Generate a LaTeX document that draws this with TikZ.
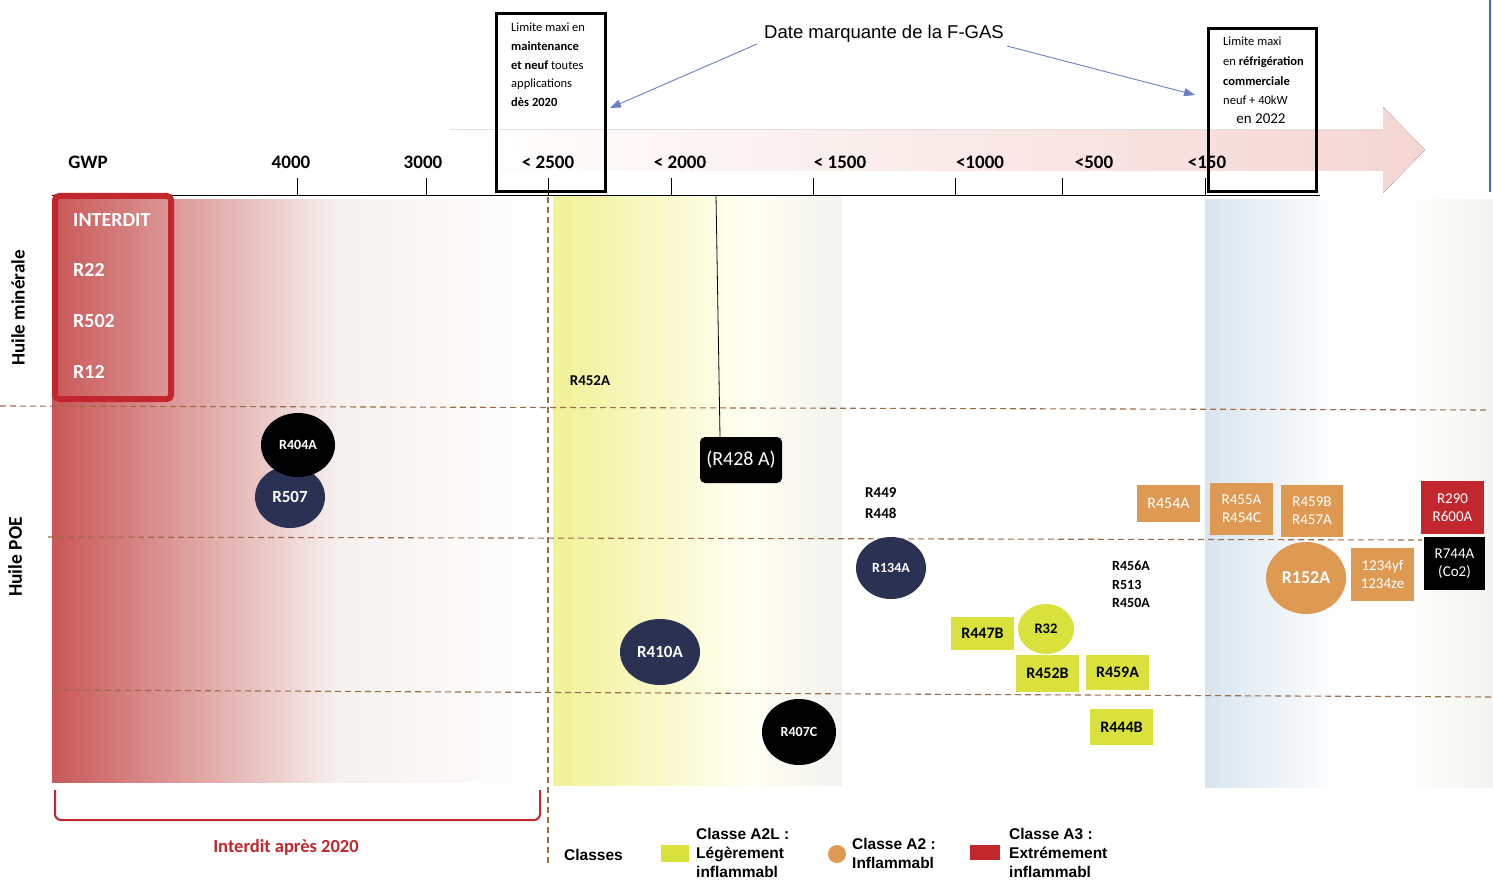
\documentclass[tikz,border=0pt]{standalone}
\usepackage{fontspec}
\setmainfont{Carlito}
\newfontfamily\arialf{Liberation Sans}
\usetikzlibrary{arrows.meta,positioning,shapes.geometric}
\definecolor{bannerred}{HTML}{C1272D}
\definecolor{zonered}{HTML}{C95757}
\definecolor{zonefade}{HTML}{F6F1EF}
\definecolor{zoneyel}{HTML}{F1F196}
\definecolor{zoneblue}{HTML}{D8E5EF}
\definecolor{zonegray}{HTML}{F3F3F0}
\definecolor{gasnavy}{HTML}{2B3153}
\definecolor{gasorange}{HTML}{DE9A52}
\definecolor{gaslime}{HTML}{D9E23D}
\definecolor{dashbrown}{HTML}{9C6B48}
\definecolor{fgasblue}{HTML}{6B80C0}
\definecolor{edgeblue}{HTML}{3F6FBF}
\definecolor{arrowpink}{HTML}{F4D6D3}
\newcommand{\fsz}[2]{\fontsize{#1}{#2}\selectfont}

\begin{document}
\begin{tikzpicture}[x=1pt,y=-1pt,
  >={Triangle[length=11pt,width=8pt]},
  gwp/.style={font=\bfseries\fsz{19}{22}, inner sep=0pt},
  tickline/.style={draw=black, line width=0.9pt},
  limbox/.style={draw=black, line width=3pt, inner sep=0pt},
  limtxt/.style={font=\fsz{12.5}{18.7}, align=left, anchor=north west, inner sep=0pt},
  sep/.style={draw=dashbrown, line width=1.1pt, dash pattern=on 6pt off 4pt},
  fgasarr/.style={->, draw=fgasblue, line width=0.9pt},
  blob/.style={ellipse, inner sep=0pt, text=white, font=\bfseries\fsz{15}{18}},
  tag/.style={rectangle, inner sep=0pt, text=white, font=\fsz{15}{18}, align=center},
  limetag/.style={rectangle, fill=gaslime, inner sep=0pt, text=black, font=\bfseries\fsz{16}{19}},
  reflbl/.style={font=\bfseries\fsz{15}{21}, align=left, inner sep=0pt},
  bantxt/.style={font=\bfseries\fsz{20}{23}, text=white, anchor=west, inner sep=0pt},
  legtxt/.style={font=\arialf\bfseries\fsz{15.5}{19}, align=left, anchor=west, inner sep=0pt},
]
\useasboundingbox (0,0) rectangle (1493,882);
\fill[white] (0,0) rectangle (1493,882);

% ---- zones ----
\fill[left color=zonered, right color=zonefade] (52,200) rectangle (340,782);
\fill[left color=zonefade, right color=white!97!zonegray] (340,200) rectangle (543,782);
\fill[left color=zoneyel, right color=white!95!yellow] (553,197) rectangle (745,785);
\fill[left color=white!95!yellow, right color=zonegray] (745,197) rectangle (842,785);
\fill[left color=zoneblue, right color=white] (1205,200) rectangle (1340,787);
\fill[left color=white, right color=zonegray] (1400,200) rectangle (1493,787);
\draw[edgeblue, line width=2.5pt] (1490,0) -- (1490,192);

% ---- fleche GWP ----
\fill[left color=white, right color=arrowpink] (450,130) -- (1383,130) -- (1383,107)
  -- (1425,150) -- (1383,193) -- (1383,171) -- (450,171) -- cycle;

% ---- axe ----
\draw[tickline] (52,195) -- (1320,195);
\foreach \tx in {297,426,548,671,813,955,1062,1205}
  \draw[tickline] (\tx,178) -- (\tx,195);
\foreach \lx/\lbl [count=\i] in {88/GWP,291/4000,423/3000,548/{< 2500},680/{< 2000},
    840/{< 1500},980/{<1000},1094/{<500},1207/{<150}}
  \node[gwp] (gwp\i) at (\lx,162) {\lbl};

% ---- separations ----
\draw[sep] (0,406) -- (1490,410);
\draw[sep] (48,537) -- (1422,540);
\draw[sep] (55,690) -- (1493,697);
\draw[sep] (548,197) -- (548,865);

% ---- limites F-GAS ----
\node[limbox, minimum width=109, minimum height=178] (lim2020) at (551,102.5) {};
\node[limtxt] (lim2020txt) at (511,23) {Limite maxi en\\\textbf{maintenance}\\\textbf{et neuf} toutes\\applications\\\textbf{dès 2020}};
\node[limbox, minimum width=108, minimum height=163] (lim2022) at (1262.5,110) {};
\node[limtxt, font=\fsz{12.5}{19.7}] (lim2022txt) at (1223,37) {Limite maxi\\en \textbf{réfrigération}\\\textbf{commerciale}\\neuf + 40kW};
\node[font=\fsz{15}{18}, inner sep=0pt] (en2022) at (1261,119) {en 2022};

\node[font=\arialf\fsz{18.5}{22}, inner sep=0pt] (fgas) at (884,34) {Date marquante de la F-GAS};
\draw[fgasarr] ([xshift=-7pt,yshift=-10pt]fgas.west) -- ([xshift=3pt,yshift=-5.5pt]lim2020.east);
\draw[fgasarr] ([xshift=3pt,yshift=-12pt]fgas.east) -- ([xshift=-12pt,yshift=15pt]lim2022.west);

% ---- interdit ----
\node[draw=bannerred, line width=6pt, rounded corners=4pt, minimum width=116, minimum height=203,
  inner sep=0pt] (interdit) at (113,297.5) {};
\foreach \ty/\lbl [count=\i] in {220/INTERDIT,270/R22,321/R502,372/R12}
  \node[bantxt] (ban\i) at (73,\ty) {\lbl};
\draw[bannerred, line width=2pt, rounded corners=6pt] (55,790) -- (55,820) -- (540,820) -- (540,790);
\node[font=\bfseries\fsz{18.5}{21}, text=bannerred, inner sep=0pt] (ban2020) at (286,847) {Interdit après 2020};

% ---- huiles ----
\node[rotate=90, font=\bfseries\fsz{19}{22}, inner sep=0pt] (minerale) at (18,308) {Huile minérale};
\node[rotate=90, font=\bfseries\fsz{19.5}{22}, inner sep=0pt] (poe) at (15,557) {Huile POE};

% ---- fluides ----
\node[blob, fill=gasnavy, minimum width=70, minimum height=62, font=\bfseries\fsz{17}{20}] (r507) at (290,497) {R507};
\node[blob, fill=black, minimum width=74, minimum height=64, font=\bfseries\fsz{14}{16}] (r404a) at (298,445) {R404A};
\node[reflbl] (r452a) at (590,381) {R452A};
\node[fill=black, rounded corners=5pt, minimum width=82, minimum height=46, inner sep=0pt,
  text=white, font=\fsz{20}{24}] (r428) at (741,460) {(R428 A)};
\coordinate (t428) at (716,195);
\draw[line width=0.8pt] (t428) -- ([xshift=-21pt]r428.north);
\node[blob, fill=gasnavy, minimum width=80, minimum height=66, font=\bfseries\fsz{17}{20}] (r410a) at (660,652) {R410A};
\node[blob, fill=black, minimum width=74, minimum height=66, font=\bfseries\fsz{14}{17}] (r407c) at (799,732) {R407C};
\node[blob, fill=gasnavy, minimum width=70, minimum height=62, font=\bfseries\fsz{14}{17}] (r134a) at (891,568) {R134A};
\node[reflbl, anchor=west] (r449) at (865,503.5) {R449\\R448};
\node[reflbl, anchor=west, font=\bfseries\fsz{14}{18.5}] (r456a) at (1112,584.5) {R456A\\R513\\R450A};

% A2L
\node[limetag, minimum width=63, minimum height=33] (r447b) at (982.5,633.5) {R447B};
\node[ellipse, fill=gaslime, minimum width=56, minimum height=50, inner sep=0pt,
  font=\bfseries\fsz{14.5}{17}] (r32) at (1046,629) {R32};
\node[limetag, minimum width=63, minimum height=37] (r452b) at (1047.5,673.5) {R452B};
\node[limetag, minimum width=63, minimum height=35] (r459a) at (1117.5,672.5) {R459A};
\node[limetag, minimum width=63, minimum height=36] (r444b) at (1121.5,727) {R444B};

% A2
\node[tag, fill=gasorange, minimum width=63, minimum height=37, font=\fsz{16}{19}] (r454a) at (1168.5,503.5) {R454A};
\node[tag, fill=gasorange, minimum width=63, minimum height=52] (r455a) at (1241.5,509) {R455A\\R454C};
\node[tag, fill=gasorange, minimum width=62, minimum height=52] (r459b) at (1312,511) {R459B\\R457A};
\node[tag, fill=gasorange, minimum width=63, minimum height=53] (r1234) at (1382.5,574.5) {1234yf\\1234ze};
\node[blob, fill=gasorange, minimum width=80, minimum height=72, font=\bfseries\fsz{18}{21}] (r152a) at (1306,578) {R152A};

% A3 et CO2
\node[tag, fill=bannerred, minimum width=63, minimum height=53] (r290) at (1452.5,507.5) {R290\\R600A};
\node[tag, fill=black, minimum width=61, minimum height=53] (r744a) at (1454.5,563.5) {R744A\\(Co2)};

% ---- legende ----
\node[legtxt] (classes) at (564,855) {Classes};
\node[fill=gaslime, minimum width=28, minimum height=17, inner sep=0pt] (lgA2L) at (675,853.5) {};
\node[legtxt] (txA2L) at (696,853) {Classe A2L :\\Légèrement\\inflammabl};
\node[circle, fill=gasorange, minimum size=18, inner sep=0pt] (lgA2) at (837,854) {};
\node[legtxt] (txA2) at (852,853) {Classe A2 :\\Inflammabl};
\node[fill=bannerred, minimum width=30, minimum height=15, inner sep=0pt] (lgA3) at (985,852) {};
\node[legtxt] (txA3) at (1009,853) {Classe A3 :\\Extrémement\\inflammabl};

\end{tikzpicture}
\end{document}
